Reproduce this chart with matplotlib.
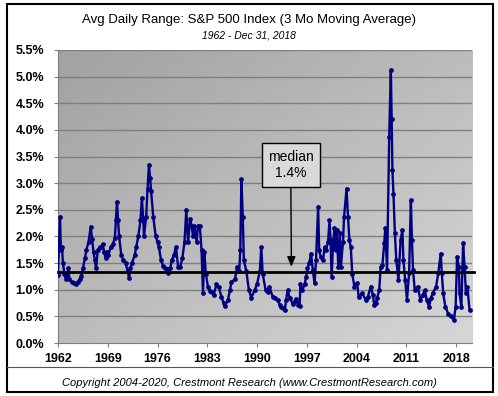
"""
Avg Daily Range: S&P 500 Index (3 Mo Moving Average), 1962 - 2018
"""

import matplotlib
matplotlib.use('Agg')
import matplotlib.pyplot as plt
import numpy as np
from matplotlib.patches import Rectangle
from matplotlib.lines import Line2D
from matplotlib.ticker import FuncFormatter

#---------------------------------------------------------------------------------------------------
# Data
#---------------------------------------------------------------------------------------------------

years = [1962.0, 1962.15, 1962.28, 1962.4, 1962.55, 1962.7, 1962.9, 1963.1, 1963.3, 1963.45,
         1963.6, 1963.9, 1964.2, 1964.5, 1964.8, 1965.1, 1965.3, 1965.5, 1965.8, 1966.0,
         1966.3, 1966.6, 1966.8, 1967.0, 1967.2, 1967.35, 1967.6, 1967.9, 1968.1, 1968.3,
         1968.5, 1968.7, 1968.9, 1969.1, 1969.4, 1969.7, 1970.0, 1970.15, 1970.3, 1970.45,
         1970.6, 1970.9, 1971.2, 1971.5, 1971.8, 1972.0, 1972.2, 1972.4, 1972.8, 1973.0,
         1973.3, 1973.6, 1973.8, 1974.0, 1974.1, 1974.4, 1974.6, 1974.8, 1974.95, 1975.1,
         1975.4, 1975.75, 1976.0, 1976.2, 1976.5, 1976.8, 1977.0, 1977.3, 1977.5, 1977.8,
         1978.0, 1978.3, 1978.6, 1978.9, 1979.2, 1979.5, 1979.8, 1980.05, 1980.3, 1980.6,
         1980.8, 1981.0, 1981.2, 1981.5, 1981.7, 1981.95, 1982.2, 1982.4, 1982.6, 1982.8,
         1983.1, 1983.4, 1983.6, 1983.9, 1984.3, 1984.6, 1985.0, 1985.3, 1985.45, 1985.9,
         1986.2, 1986.4, 1986.9, 1987.2, 1987.5, 1987.65, 1987.8, 1988.0, 1988.15, 1988.5,
         1988.85, 1989.2, 1989.7, 1990.0, 1990.4, 1990.6, 1990.8, 1991.2, 1991.5, 1991.75,
         1992.2, 1992.6, 1992.9, 1993.2, 1993.4, 1993.7, 1993.9, 1994.1, 1994.3, 1994.6,
         1995.0, 1995.3, 1995.5, 1995.8, 1996.0, 1996.1, 1996.4, 1996.7, 1996.9, 1997.1,
         1997.35, 1997.6, 1997.85, 1998.1, 1998.3, 1998.6, 1998.75, 1998.95, 1999.3, 1999.5,
         1999.7, 2000.0, 2000.2, 2000.35, 2000.5, 2000.7, 2000.9, 2001.05, 2001.2, 2001.45,
         2001.65, 2001.8, 2002.1, 2002.25, 2002.6, 2002.8, 2003.0, 2003.2, 2003.4, 2003.7,
         2004.1, 2004.3, 2004.8, 2005.3, 2005.6, 2006.0, 2006.3, 2006.5, 2006.7, 2006.9,
         2007.2, 2007.4, 2007.65, 2007.9, 2008.05, 2008.3, 2008.6, 2008.83, 2008.95, 2009.05,
         2009.2, 2009.4, 2009.6, 2009.9, 2010.2, 2010.45, 2010.6, 2010.85, 2011.1, 2011.4,
         2011.65, 2011.8, 2011.95, 2012.2, 2012.6, 2013.0, 2013.3, 2013.6, 2013.9, 2014.2,
         2014.5, 2014.7, 2015.2, 2015.5, 2015.85, 2016.0, 2016.2, 2016.5, 2016.9, 2017.3,
         2017.7, 2017.95, 2018.15, 2018.4, 2018.5, 2018.75, 2019.0, 2019.2, 2019.4, 2019.6,
         2019.9]

avg_range = [1.28, 1.9, 2.37, 1.75, 1.8, 1.5, 1.3, 1.2, 1.25, 1.4,
             1.2, 1.15, 1.12, 1.1, 1.15, 1.2, 1.25, 1.4, 1.6, 1.75,
             1.9, 2.18, 1.95, 1.7, 1.55, 1.4, 1.75, 1.8, 1.8, 1.85,
             1.7, 1.6, 1.7, 1.65, 1.8, 1.85, 1.97, 2.3, 2.65, 2.3,
             2.0, 1.65, 1.55, 1.5, 1.35, 1.22, 1.4, 1.5, 1.65, 1.8,
             2.0, 2.3, 2.72, 2.3, 2.0, 2.37, 2.9, 3.34, 3.1, 2.85,
             2.37, 2.0, 1.9, 1.8, 1.55, 1.45, 1.4, 1.38, 1.31, 1.4,
             1.55, 1.65, 1.8, 1.43, 1.43, 1.6, 1.9, 2.5, 1.9, 2.33,
             2.2, 2.0, 2.2, 1.9, 2.2, 2.2, 1.74, 0.94, 1.7, 1.3,
             1.05, 0.98, 0.95, 0.9, 1.1, 1.05, 0.87, 0.75, 0.69, 0.8,
             1.0, 1.14, 1.2, 1.43, 1.35, 1.74, 3.07, 2.37, 1.55, 1.35,
             1.0, 0.85, 1.0, 1.1, 1.35, 1.8, 1.3, 1.0, 0.95, 1.05,
             0.87, 0.85, 0.8, 0.72, 0.68, 0.65, 0.62, 0.8, 0.99, 0.85,
             0.74, 0.78, 0.83, 0.72, 0.70, 1.1, 1.0, 1.1, 1.24, 1.4,
             1.5, 1.68, 1.37, 1.12, 1.55, 2.56, 1.74, 1.62, 1.55, 1.8,
             1.74, 1.9, 2.3, 1.93, 1.24, 1.87, 2.15, 1.74, 2.12, 1.43,
             2.06, 1.43, 1.9, 2.37, 2.9, 2.37, 1.93, 1.8, 1.3, 1.06,
             1.12, 0.87, 0.93, 0.81, 0.87, 1.06, 0.9, 0.71, 0.75, 0.84,
             1.0, 1.43, 1.47, 1.87, 2.15, 1.37, 3.87, 5.12, 4.2, 3.25,
             2.8, 2.06, 1.56, 1.18, 1.93, 2.12, 1.56, 1.18, 0.81, 1.31,
             2.68, 1.93, 1.37, 0.99, 1.06, 0.81, 0.9, 0.99, 0.8, 0.68,
             0.85, 0.93, 1.06, 1.31, 1.68, 1.31, 0.93, 0.68, 0.55, 0.5,
             0.43, 0.68, 1.62, 1.43, 0.93, 0.68, 1.87, 1.43, 0.93, 1.06,
             0.62]

median_val = 1.34
median_label = 'median\n1.4%'
xtick_years = [1962, 1969, 1976, 1983, 1990, 1997, 2004, 2011, 2018]

#---------------------------------------------------------------------------------------------------
# Plot
#---------------------------------------------------------------------------------------------------

plt.rcParams['font.family'] = ['Liberation Sans', 'DejaVu Sans']

fig = plt.figure(figsize=(4.98, 3.96), dpi=100)
fig.patch.set_facecolor('white')
ax = fig.add_axes([58/498, 1 - 343/396, (472 - 58)/498, (343 - 50)/396])

# diagonal gray gradient background (darker top-left, lighter bottom-right)
gx, gy = np.meshgrid(np.linspace(0, 1, 200), np.linspace(0, 1, 200))
grad = (gx + gy) / 2.
ax.imshow(grad, extent=[0, 1, 0, 1], transform=ax.transAxes, cmap='gray',
          vmin=-3.0, vmax=1.76, origin='upper', aspect='auto', zorder=0)

for yv in np.arange(0.5, 5.51, 0.5):
    ax.axhline(yv, color='#7f7f7f', lw=1.0, zorder=1)

ax.plot(years, avg_range, '-', color='#000080', lw=1.7, marker='o', ms=2.4, zorder=3)

ax.add_line(Line2D([1962, 2020.6], [median_val, median_val], color='black', lw=2,
                   clip_on=False, zorder=4))

ax.annotate(median_label, xy=(1994.84, 1.43), xytext=(1994.74, 3.34),
            ha='center', va='center', fontsize=10, linespacing=1.25, zorder=5,
            bbox=dict(boxstyle='square,pad=0.45', fc='#d9d9d9', ec='black', lw=1),
            arrowprops=dict(arrowstyle='-|>,head_length=0.6,head_width=0.25', color='black',
                            lw=1, shrinkA=0, shrinkB=0))

ax.set_xlim(1962, 2020.25)
ax.set_ylim(0, 5.5)
ax.set_yticks(np.arange(0, 5.51, 0.5))
ax.yaxis.set_major_formatter(FuncFormatter(lambda v, p: '%.1f%%' % v))
ax.set_xticks(xtick_years)
ax.set_xticklabels([str(y) for y in xtick_years])
for lab in ax.get_xticklabels() + ax.get_yticklabels():
    lab.set_fontweight('bold')
    lab.set_fontsize(9)
ax.tick_params(axis='y', length=3, color='#7f7f7f', pad=7)
ax.tick_params(axis='x', length=3, color='#7f7f7f', pad=4)
for s in ['top', 'right']:
    ax.spines[s].set_visible(False)
for s in ['left', 'bottom']:
    ax.spines[s].set_color('#7f7f7f')

# Titles and other text
fig.text(0.5, 1 - 20/396, 'Avg Daily Range: S&P 500 Index (3 Mo Moving Average)',
         ha='center', va='center', fontsize=9.5)
fig.text(0.5, 1 - 36/396, '1962 - Dec 31, 2018', ha='center', va='center',
         fontsize=7.5, style='italic')
fig.text(0.5, 1 - 383/396, 'Copyright 2004-2020, Crestmont Research (www.CrestmontResearch.com)',
         ha='center', va='center', fontsize=8, style='italic')

# outer frame and separator
fig.add_artist(Rectangle((7/498, 4/396), 486/498, 388/396, transform=fig.transFigure,
                         fill=False, ec='black', lw=1.5))
fig.add_artist(Line2D([7/498, 493/498], [1 - 367/396, 1 - 367/396], transform=fig.transFigure,
                      color='#555555', lw=0.8))

plt.savefig('out.png', dpi=100)
plt.close()
